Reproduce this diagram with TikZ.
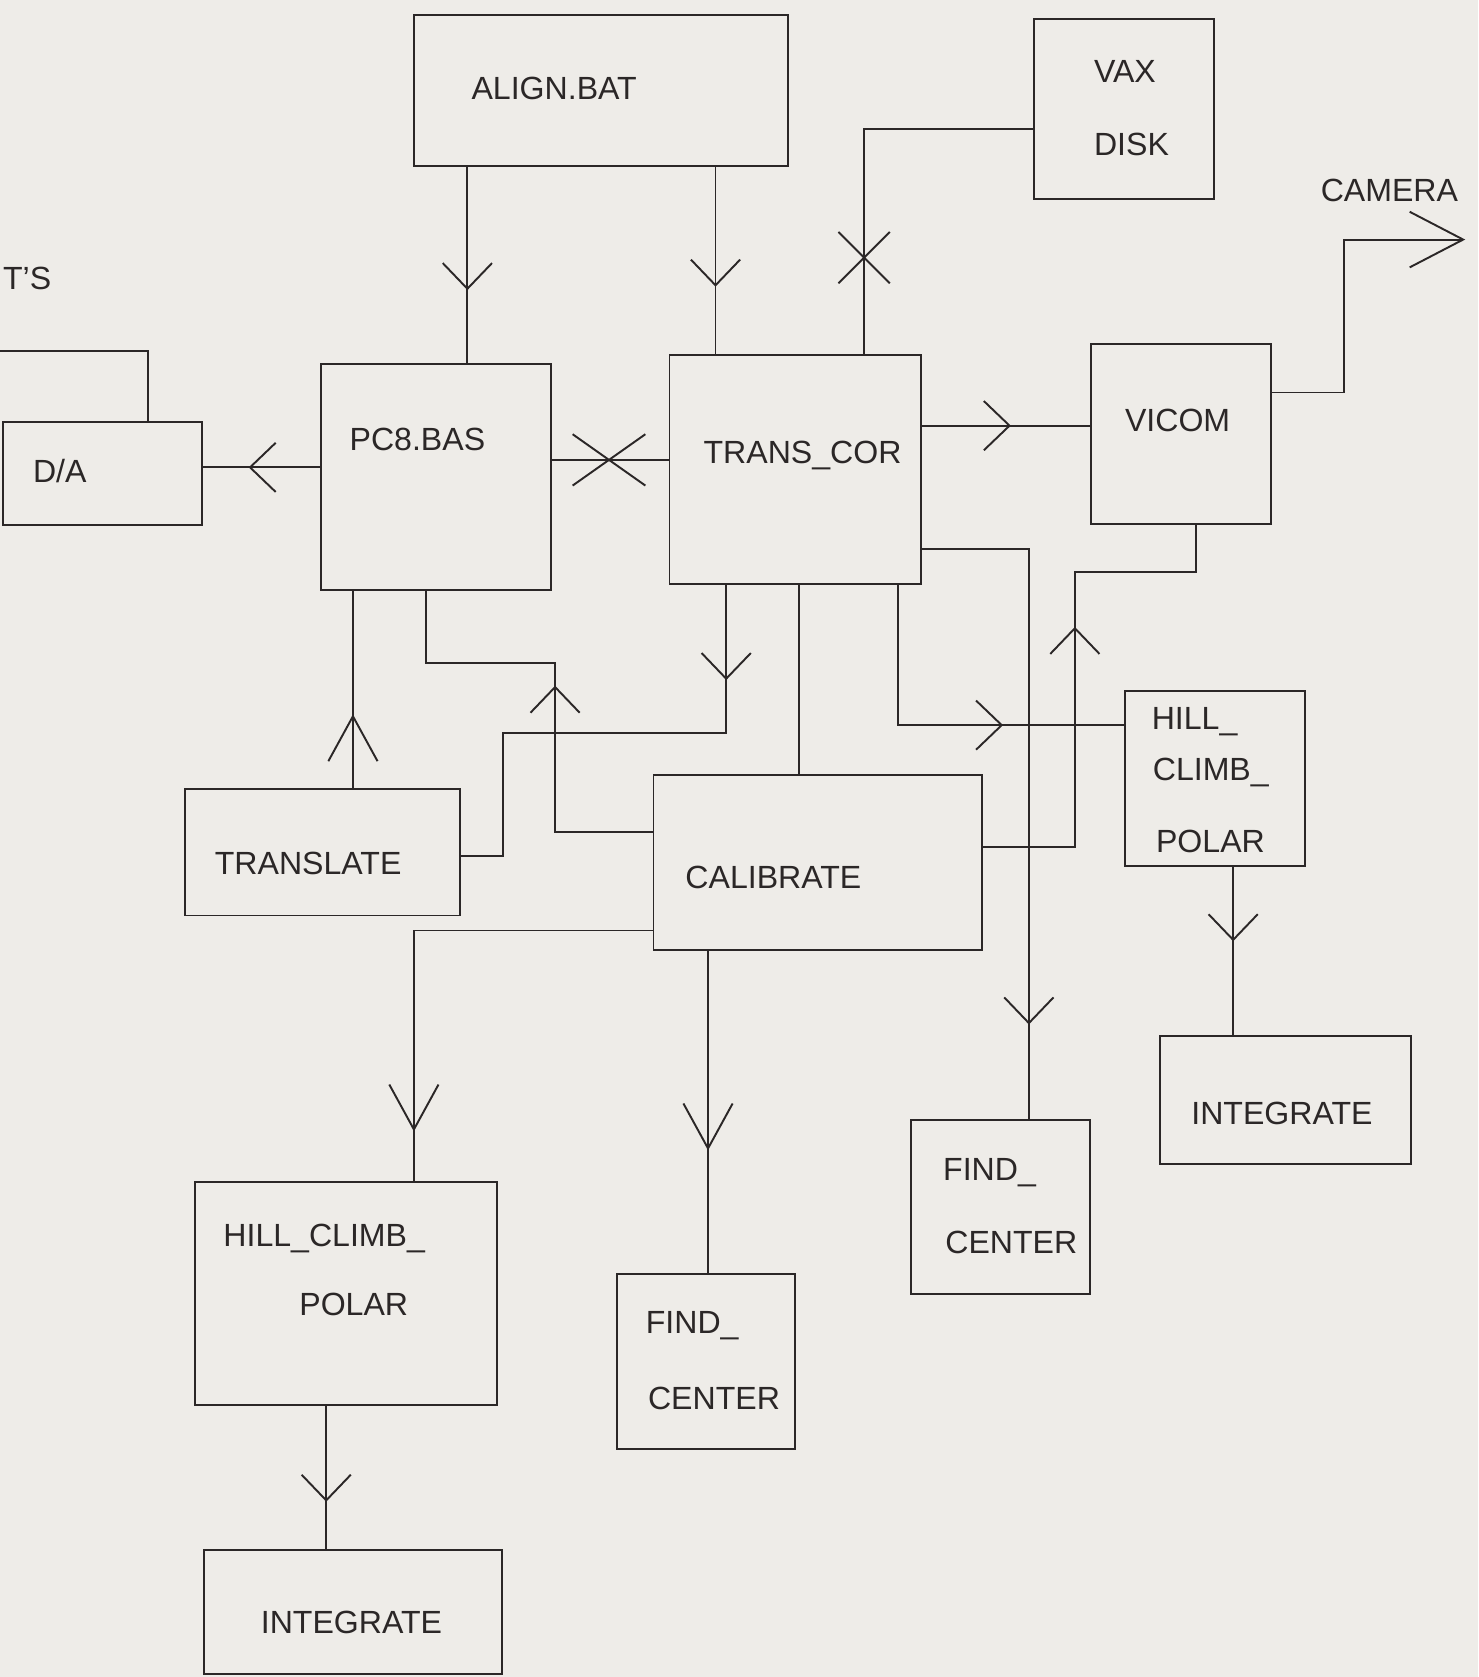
\documentclass[tikz,border=0pt]{standalone}
\usepackage{fontspec}
\setmainfont{Liberation Sans}
\usetikzlibrary{arrows.meta,fit,decorations.markings}
\definecolor{paper}{HTML}{EEECE8}
\definecolor{ink}{HTML}{2B2727}

\begin{document}
\begin{tikzpicture}[x=0.5pt,y=-0.5pt,line width=0.9pt,color=ink,
  box/.style={draw,inner sep=0pt},
  lbl/.style={anchor=base west,inner sep=0pt,font=\fontsize{15}{18}\selectfont},
  flow/.style={postaction={decorate,decoration={markings,mark=at position #1 with {\arrow{Straight Barb[length=12pt,width=23pt]}}}}},
  longflow/.style={postaction={decorate,decoration={markings,mark=at position #1 with {\arrow{Straight Barb[length=21pt,width=23pt]}}}}},
  xmark/.style 2 args={postaction={decorate,decoration={markings,mark=at position #1 with {\draw (-#2,-12pt) -- (#2,12pt) (-#2,12pt) -- (#2,-12pt);}}}}]
  \fill[paper] (0,0) rectangle (1382,1568);
  \useasboundingbox (0,0) rectangle (1382,1568);

  % boxes
  \node[box,fit={(387,14) (737,155)}] (align) {};
  \node[box,fit={(967,18) (1135,186)}] (vax) {};
  \node[box,fit={(300,340) (515,552)}] (pc8) {};
  \node[box,fit={(626,332) (861,546)}] (trans) {};
  \node[box,fit={(1020,322) (1188,490)}] (vicom) {};
  \node[box,fit={(3,395) (189,491)}] (da) {};
  \node[box,fit={(173,738) (430,856)}] (translate) {};
  \node[box,fit={(611,725) (918,888)}] (calib) {};
  \node[box,fit={(1052,646) (1220,810)}] (hillR) {};
  \node[box,fit={(1085,969) (1319,1088)}] (intR) {};
  \node[box,fit={(852,1047) (1019,1210)}] (fcR) {};
  \node[box,fit={(577,1191) (743,1355)}] (fcM) {};
  \node[box,fit={(182,1105) (465,1314)}] (hillL) {};
  \node[box,fit={(191,1449) (469,1565)}] (intL) {};

  % labels
  \node[lbl] (alignT) at (440,93) {ALIGN.BAT};
  \node[lbl] (vaxA) at (1022,77) {VAX};
  \node[lbl] (vaxB) at (1022,145) {DISK};
  \node[lbl] (pc8T) at (326,421) {PC8.BAS};
  \node[lbl] (transT) at (657,433) {TRANS\_COR};
  \node[lbl] (vicomT) at (1051,403) {VICOM};
  \node[lbl] (daT) at (30,451) {D/A};
  \node[lbl] (tsT) at (2,271) {T'S};
  \node[lbl] (camT) at (1234,188) {CAMERA};
  \node[lbl] (translateT) at (200,818) {TRANSLATE};
  \node[lbl] (calibT) at (640,831) {CALIBRATE};
  \node[lbl] (hillRA) at (1076,682) {HILL\_};
  \node[lbl] (hillRB) at (1077,730) {CLIMB\_};
  \node[lbl] (hillRC) at (1080,797) {POLAR};
  \node[lbl] (intRT) at (1113,1051) {INTEGRATE};
  \node[lbl] (fcRA) at (881,1104) {FIND\_};
  \node[lbl] (fcRB) at (883,1172) {CENTER};
  \node[lbl] (fcMA) at (603,1247) {FIND\_};
  \node[lbl] (fcMB) at (605,1318) {CENTER};
  \node[lbl] (hillLA) at (208,1165) {HILL\_CLIMB\_};
  \node[lbl] (hillLB) at (279,1230) {POLAR};
  \node[lbl] (intLT) at (243,1527) {INTEGRATE};

  \coordinate (tsend) at (-10,328);
  \coordinate (camturn) at (1257,224);
  \coordinate (cam) at (1370,224);

  % connectors
  \draw[flow=.63] (align.south -| 437,0) -- (pc8.north -| 437,0);
  \draw[flow=.64] (align.south -| 669,0) -- (trans.north -| 669,0);
  \draw[xmark={139pt}{12pt}] (vax.west |- 0,121) -| (trans.north -| 808,0);
  \draw[flow=.53] (trans.east |- 0,398) -- (vicom.west |- 0,398);
  \draw[-{Straight Barb[length=25pt,width=26pt]}] (vicom.east |- 0,367) -| (camturn) -- (cam);
  \draw[flow=.61] (pc8.west |- 0,437) -- (da.east |- 0,437);
  \draw[xmark={.49}{17pt}] (pc8.east |- 0,430) -- (trans.west |- 0,430);
  \draw (da.north -| 138,0) |- (tsend);
  \draw[longflow=.376] (translate.north -| 330,0) -- (pc8.south -| 330,0);
  \draw[flow=114pt] (calib.west |- 0,778) -| (519,620) -| (pc8.south -| 398,0);
  \draw[flow=44.5pt] (trans.south -| 679,0) |- (470,685) |- (translate.east |- 0,800);
  \draw (trans.south -| 747,0) -- (calib.north -| 747,0);
  \draw[flow=114.5pt] (trans.south -| 840,0) |- (hillR.west |- 0,678);
  \draw[flow=272.5pt] (trans.east |- 0,513) -| (fcR.north -| 962,0);
  \draw[flow=146pt] (calib.east |- 0,792) -| (1005,535) -| (vicom.south -| 1118,0);
  \draw[flow=.44] (hillR.south -| 1153,0) -- (intR.north -| 1153,0);
  \draw[longflow=205.5pt] (calib.west |- 0,870) -| (hillL.north -| 387,0);
  \draw[longflow=.62] (calib.south -| 662,0) -- (fcM.north -| 662,0);
  \draw[flow=.67] (hillL.south -| 305,0) -- (intL.north -| 305,0);
\end{tikzpicture}
\end{document}
